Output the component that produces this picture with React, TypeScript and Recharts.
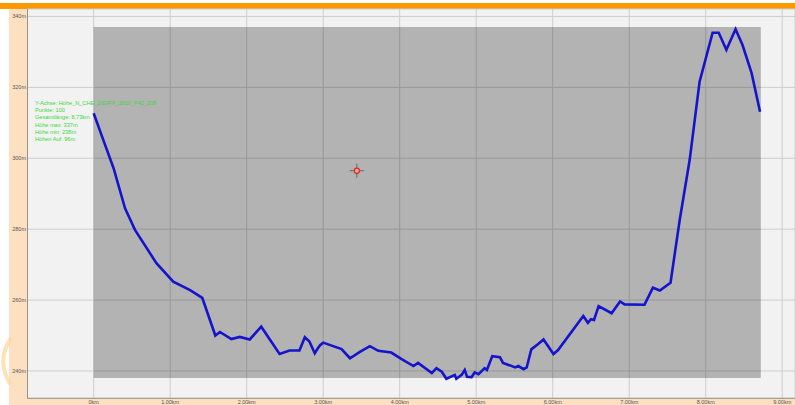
import { LineChart, Line, XAxis, YAxis, CartesianGrid, ReferenceArea, ReferenceDot } from 'recharts'

// Streckenprofil: Distanz (km) und Höhe (m)
const distKm = [
  0.0, 0.11, 0.26, 0.41, 0.54, 0.82, 1.04, 1.26, 1.42, 1.59, 1.65, 1.8, 1.91, 2.04, 2.19,
  2.43, 2.56, 2.69, 2.76, 2.82, 2.89, 2.93, 2.96, 3.0, 3.24, 3.35, 3.48, 3.61, 3.72, 3.89,
  4.02, 4.18, 4.24, 4.42, 4.48, 4.55, 4.61, 4.72, 4.74, 4.81, 4.85, 4.88, 4.94, 4.98, 5.03,
  5.11, 5.14, 5.21, 5.31, 5.35, 5.51, 5.55, 5.62, 5.66, 5.72, 5.81, 5.88, 6.01, 6.07, 6.4,
  6.46, 6.5, 6.54, 6.6, 6.77, 6.88, 6.94, 7.2, 7.31, 7.4, 7.54, 7.66, 7.79, 7.92, 8.09,
  8.17, 8.27, 8.39, 8.48, 8.6, 8.71,
]
const heightM = [
  312.7, 306.1, 297.2, 285.9, 279.8, 270.4, 265.2, 262.8, 260.6, 250.0, 251.0, 249.0, 249.6, 248.9, 252.5,
  244.8, 245.8, 245.8, 249.5, 248.3, 245.0, 246.4, 247.3, 248.0, 246.2, 243.6, 245.4, 247.0, 245.7, 245.2,
  243.4, 241.4, 242.3, 239.4, 240.8, 239.8, 237.8, 238.9, 237.8, 238.9, 240.3, 238.4, 238.3, 239.6, 239.1,
  240.8, 240.3, 244.2, 243.9, 242.3, 241.0, 241.4, 240.5, 241.0, 246.1, 247.6, 248.9, 244.8, 245.9, 255.5,
  253.6, 254.6, 254.4, 258.3, 256.3, 259.6, 258.8, 258.7, 263.5, 262.7, 264.9, 282.6, 299.5, 321.6, 335.4,
  335.4, 330.6, 336.4, 332.0, 324.0, 313.1,
]

const xTicks = [0, 1, 2, 3, 4, 5, 6, 7, 8, 9]
const yTicks = [240, 260, 280, 300, 320, 340]

const infoLines = [
  'Y-Achse: Höhe_N_CHE_20GPX_2010_P42_238',
  'Punkte: 100',
  'Gesamtlänge: 8,73km',
  'Höhe max: 337m',
  'Höhe min: 238m',
  'Höhen Auf: 96m',
]

// Bereich der Strecke (dunkles Rechteck)
const rangeKm = [0, 8.72]
const rangeM = [238, 337]
const cursor = { km: 3.44, m: 296.5 }

const data = distKm.map((km, i) => ({ km, h: heightM[i] }))

const FONT = '"Liberation Sans", Arial, sans-serif'

const XTick = (props: any) => {
  const { x, y, payload } = props
  const v = payload.value
  return (
    <text x={x} y={y + 5.8} textAnchor="middle" fontSize={5.5} fill="#555" fontFamily={FONT}>
      {v === 0 ? '0km' : `${v.toFixed(2)}km`}
    </text>
  )
}

const YTick = (props: any) => {
  const { x, y, payload } = props
  return (
    <text x={x} y={y + 2} textAnchor="end" fontSize={5.5} fill="#555" fontFamily={FONT}>
      {`${payload.value}m`}
    </text>
  )
}

const Crosshair = (props: any) => {
  const { cx, cy } = props
  return (
    <g>
      <line x1={cx - 7} x2={cx + 7} y1={cy} y2={cy} stroke="#5a6a5a" strokeWidth={1} />
      <line x1={cx} x2={cx} y1={cy - 7} y2={cy + 7} stroke="#5a6a5a" strokeWidth={1} />
      <circle cx={cx} cy={cy} r={2.6} fill="#f0a0a0" stroke="#e02828" strokeWidth={1.2} />
    </g>
  )
}

export default function App() {
  return (
    <div style={{ position: 'absolute', left: 0, top: 0, width: 795, height: 405, background: '#fff', overflow: 'hidden', fontFamily: FONT }}>
      <div style={{ position: 'absolute', left: 0, top: 3, width: 795, height: 6, background: '#ff9900' }} />
      <div style={{ position: 'absolute', left: 9, top: 9, width: 19, height: 396, background: '#fde0c2' }} />
      <div style={{ position: 'absolute', left: 9, top: 398, width: 786, height: 7, background: '#fde0c2' }} />
      <div style={{ position: 'absolute', left: 0, top: 0 }}>
        <LineChart width={795} height={405} data={data} margin={{ top: 9, right: 0, left: 0, bottom: 0 }}>
          <CartesianGrid stroke="#cdcdcd" fill="#f2f2f2" />
          <XAxis
            type="number"
            dataKey="km"
            domain={[-0.865, 9.167]}
            ticks={xTicks}
            allowDataOverflow
            height={6.7}
            tickSize={0}
            tickMargin={0}
            tick={<XTick />}
            axisLine={{ stroke: '#9c8f86' }}
            tickLine={false}
            interval={0}
          />
          <YAxis
            type="number"
            domain={[232.3, 342.1]}
            ticks={yTicks}
            allowDataOverflow
            width={27.5}
            tickSize={0}
            tickMargin={1.5}
            tick={<YTick />}
            axisLine={{ stroke: '#9c8f86' }}
            tickLine={false}
            interval={0}
          />
          <ReferenceArea
            x1={rangeKm[0]}
            x2={rangeKm[1]}
            y1={rangeM[0]}
            y2={rangeM[1]}
            fill="#000"
            fillOpacity={0.26}
            stroke="none"
            ifOverflow="hidden"
          />
          <Line
            type="linear"
            dataKey="h"
            stroke="#1414cc"
            strokeWidth={2.6}
            dot={false}
            isAnimationActive={false}
          />
          <ReferenceDot x={cursor.km} y={cursor.m} shape={<Crosshair />} />
        </LineChart>
      </div>
      <svg width={795} height={405} style={{ position: 'absolute', left: 0, top: 0, pointerEvents: 'none' }}>
        <path d="M 11 338 Q -4 360 10 384" fill="none" stroke="#ffd49a" strokeWidth={4} opacity={0.7} />
        {infoLines.map((t, i) => (
          <text key={i} x={35} y={104.5 + i * 7.35} fontSize={5.6} fill="#3ad83a" fontFamily={FONT}>
            {t}
          </text>
        ))}
      </svg>
    </div>
  )
}
